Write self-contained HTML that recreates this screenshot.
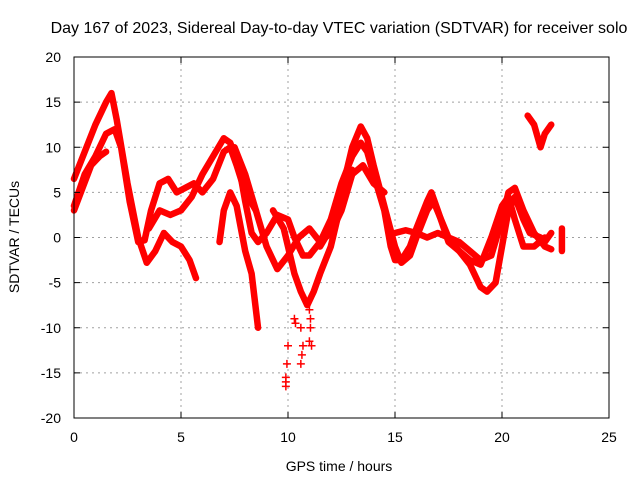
<!DOCTYPE html>
<html><head><meta charset="utf-8"><style>
body{margin:0;background:#fff}
svg{display:block;font-family:"Liberation Sans",sans-serif}
</style></head><body>
<svg id="chart" width="640" height="480" viewBox="0 0 640 480">
<text x="339" y="33" font-size="16" text-anchor="middle" fill="#000">Day 167 of 2023, Sidereal Day-to-day VTEC variation (SDTVAR) for receiver solo</text>
<g id="grid"></g>
<g id="series"></g>
<rect x="74" y="57" width="535" height="361" fill="none" stroke="#000" stroke-width="1"/>
<g id="ticks"></g>
<text x="339" y="471" font-size="14" text-anchor="middle">GPS time / hours</text>
<text x="19" y="237" font-size="14" text-anchor="middle" transform="rotate(-90 19 237)">SDTVAR / TECUs</text>
</svg>
<script>
const xTicks=[0,5,10,15,20,25];
const yTicks=[-20,-15,-10,-5,0,5,10,15,20];
const sA=[[0,6.5],[0.5,9.5],[1,12.5],[1.5,15],[1.75,16],[2,13],[2.5,6],[3,0],[3.4,-2.8],[3.8,-1.5],[4.2,0.5],[4.6,-0.5],[5,-1],[5.4,-2.5],[5.7,-4.5]];
const sB=[[0,3],[0.4,5.5],[0.8,8],[1.2,9],[1.5,9.5]];
const sC=[[0,3.5],[0.5,7],[1,9],[1.5,11.5],[1.9,12],[2.2,10],[2.6,4],[3,-0.5],[3.3,-0.3],[3.6,3],[4,6],[4.4,6.5],[4.8,5],[5.2,5.5],[5.6,6],[6,5],[6.5,6.5],[7,9.5],[7.3,10],[7.6,8],[8,5],[8.5,3]];
const sD=[[3.5,1],[4,3],[4.5,2.5],[5,3],[5.5,4.5],[6,7],[6.5,9],[7,11],[7.3,10.5],[7.7,8],[8,4],[8.3,0.5],[8.6,-0.5],[9,0.5],[9.5,2.5],[10,2],[10.3,0],[10.7,-2],[11,-2],[11.5,-0.5],[12,2],[12.5,6],[13,9],[13.4,10.5],[13.7,9.5],[14,7],[14.5,3],[14.8,-1],[15,-2.5],[15.3,-2.5],[15.7,-1],[16,1],[16.5,4],[16.7,5],[17,3],[17.5,-0.5],[18,-1.5],[18.5,-2.5],[19,-3],[19.5,0],[20,3.5],[20.3,4.5],[20.6,2],[21,-1],[21.5,-1],[22,0]];
const sE=[[6.8,-0.5],[7,3],[7.3,5],[7.6,3.5],[8,-1.5],[8.3,-4],[8.6,-10]];
const sF=[[7.5,10],[8,7],[8.5,3],[9,-1],[9.5,-3.5],[10,-2],[10.5,0],[11,1],[11.5,-0.5],[12,0.5],[12.5,3],[13,7],[13.5,8],[14,6],[14.5,5]];
const sG=[[9.3,3],[9.8,1],[10,-1],[10.3,-4],[10.6,-6],[10.9,-7.5],[11.2,-6],[11.5,-4],[12,-1],[12.5,4],[13,7.5]];
const sH=[[11.5,-1],[12,1],[12.5,5],[13,10],[13.4,12.3],[13.7,11],[14,8],[14.5,3.5],[15,-1],[15.3,-2.8],[15.7,-2],[16,0],[16.5,3],[16.8,4],[17.5,0],[18,-1.5],[18.5,-3],[19,-5.5],[19.3,-6],[19.7,-5],[20,-1],[20.3,3],[20.6,4.5],[21,2],[21.3,0.5],[21.8,0],[22,-0.5],[22.3,0.5]];
const sI=[[15,0.5],[15.5,0.8],[16,0.5],[16.5,0],[17,0.5],[17.5,0],[18,-0.5],[18.5,-1.5],[19,-2.5],[19.5,-2],[20,2],[20.3,5],[20.6,5.5],[21,3],[21.5,0.5],[22,-1],[22.3,-1.3]];
const sJ=[[21.2,13.5],[21.5,12.5],[21.8,10],[22,11.5],[22.3,12.5]];
const sK=[[22.8,-1.5],[22.8,1]];
const scatterX=[9.9,9.9,9.95,10,9.9,10.3,10.35,10.6,10.65,10.6,10.7,11,11.05,11,11.1,11.05];
const scatterY=[-16.5,-15.5,-14,-12,-16,-9,-9.5,-14,-13,-10,-12,-8,-10,-11.5,-12,-9];
const X=h=>74+h*535/25, Y=v=>237.5-v*361/40;
const NS='http://www.w3.org/2000/svg';
const grid=document.getElementById('grid'),ticks=document.getElementById('ticks'),ser=document.getElementById('series');
function mk(tag,at,p){const e=document.createElementNS(NS,tag);for(const k in at)e.setAttribute(k,at[k]);p.appendChild(e);return e;}
xTicks.forEach(t=>{const x=X(t);
 if(t>0&&t<25){const l=mk('line',{x1:x,y1:57,x2:x,y2:418,stroke:'#a0a0a0','stroke-dasharray':'2,4'},grid);
 
 }
 mk('line',{x1:x,y1:418,x2:x,y2:412,stroke:'#000'},ticks);mk('line',{x1:x,y1:57,x2:x,y2:63,stroke:'#000'},ticks);
 const tx=mk('text',{x:x,y:442,'font-size':14,'text-anchor':'middle'},ticks);tx.textContent=t;
 
 });
yTicks.forEach(t=>{const y=Y(t);
 if(t>-20&&t<20){const l=mk('line',{x1:74,y1:y,x2:609,y2:y,stroke:'#a0a0a0','stroke-dasharray':'2,4'},grid);
 
 }
 mk('line',{x1:74,y1:y,x2:80,y2:y,stroke:'#000'},ticks);mk('line',{x1:609,y1:y,x2:603,y2:y,stroke:'#000'},ticks);
 const tx=mk('text',{x:61,y:y+5,'font-size':14,'text-anchor':'end'},ticks);tx.textContent=t;
 
 });
[sA,sB,sC,sD,sE,sF,sG,sH,sI,sJ,sK].forEach((s,i)=>{
 const p=mk('polyline',{points:s.map(d=>X(d[0])+','+Y(d[1])).join(' '),fill:'none',stroke:'#ff0000','stroke-width':6.5,'stroke-linejoin':'round','stroke-linecap':'round'},ser);
 
 });
scatterX.forEach((h,i)=>{const x=X(h),y=Y(scatterY[i]);
 const p=mk('path',{d:`M${x-4},${y}H${x+4}M${x},${y-4}V${y+4}`,stroke:'#ff0000','stroke-width':1.5},ser);
 
 });
</script>
</body></html>
